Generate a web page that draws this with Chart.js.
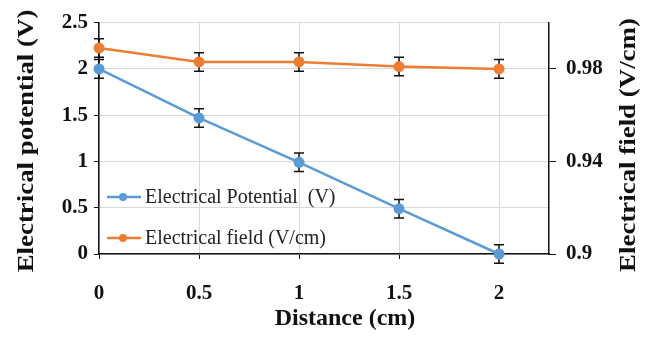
<!DOCTYPE html>
<html lang="en">
<head>
<meta charset="UTF-8">
<title>Electrical potential and field vs distance</title>
<script src="https://cdn.jsdelivr.net/npm/chart.js"></script>
<style>
  body { margin: 0; background: #fff; }
  canvas { display: block; }
</style>
</head>
<body>
<canvas id="chart" width="654" height="337"></canvas>
<script>
// values
var distance = [0, 0.5, 1, 1.5, 2];
var potential = [2.0, 1.47, 0.99, 0.49, 0.0];
var potentialErr = [0.1, 0.1, 0.1, 0.1, 0.1];
var field = [0.989, 0.983, 0.983, 0.981, 0.980];
var fieldErr = [0.004, 0.004, 0.004, 0.004, 0.004];
var xTicks = [0, 0.5, 1, 1.5, 2];
var leftTicks = [0, 0.5, 1, 1.5, 2, 2.5];
var rightTicks = [0.9, 0.94, 0.98];

var blue = '#5b9bd5';
var orange = '#ed7d31';
var serif = '"Liberation Serif", "Times New Roman", serif';

function pts(ys) {
    return distance.map(function (x, i) { return { x: x, y: ys[i] }; });
}

// plain number labels: 2 not 2.0, 0.9 not 0.90
function plain(v) {
    return String(Number(v.toFixed(2)));
}

// vertical error bars, drawn through the scales
var errorBars = {
    id: 'errorBars',
    beforeDatasetsDraw: function (chart) {
        var ctx = chart.ctx;
        var errs = [potentialErr, fieldErr];
        ctx.save();
        ctx.strokeStyle = '#111';
        ctx.lineWidth = 1.5;
        chart.data.datasets.forEach(function (ds, d) {
            var ys = chart.scales[ds.yAxisID];
            var xs = chart.scales.x;
            ds.data.forEach(function (p, i) {
                var x = xs.getPixelForValue(p.x);
                var top = ys.getPixelForValue(p.y + errs[d][i]);
                var bot = ys.getPixelForValue(p.y - errs[d][i]);
                ctx.beginPath();
                ctx.moveTo(x, top); ctx.lineTo(x, bot);
                ctx.moveTo(x - 5, top); ctx.lineTo(x + 5, top);
                ctx.moveTo(x - 5, bot); ctx.lineTo(x + 5, bot);
                ctx.stroke();
            });
        });
        ctx.restore();
    }
};

// axis titles and the legend inside the plot
var extras = {
    id: 'extras',
    afterDraw: function (chart) {
        var ctx = chart.ctx;
        var a = chart.chartArea;
        ctx.save();
        ctx.fillStyle = '#111';
        ctx.textAlign = 'center';
        ctx.textBaseline = 'middle';

        ctx.font = 'bold 24px ' + serif;
        ctx.fillText('Distance (cm)', 345, 319);

        ctx.save();
        ctx.translate(27, 141);
        ctx.rotate(-Math.PI / 2);
        ctx.scale(1.12, 1);
        ctx.fillText('Electrical potential (V)', 0, 0);
        ctx.restore();

        ctx.save();
        ctx.translate(629, 145);
        ctx.rotate(-Math.PI / 2);
        ctx.scale(1.12, 1);
        ctx.fillText('Electrical field (V/cm)', 0, 0);
        ctx.restore();

        // legend
        var rows = [197, 238];
        ctx.font = '20px ' + serif;
        ctx.textAlign = 'left';
        chart.data.datasets.forEach(function (ds, i) {
            var y = rows[i];
            ctx.strokeStyle = ds.borderColor;
            ctx.lineWidth = 2.5;
            ctx.beginPath();
            ctx.moveTo(a.left + 8, y); ctx.lineTo(a.left + 42, y);
            ctx.stroke();
            ctx.fillStyle = ds.borderColor;
            ctx.beginPath();
            ctx.arc(a.left + 24, y, 4, 0, Math.PI * 2);
            ctx.fill();
            ctx.fillStyle = '#222';
            ctx.fillText(ds.label, a.left + 46, y + 1);
        });
        ctx.restore();
    }
};

var tickFont = { family: serif, size: 21, weight: 'bold' };

new Chart(document.getElementById('chart'), {
    type: 'line',
    data: {
        datasets: [{
            label: 'Electrical Potential  (V)',
            data: pts(potential),
            yAxisID: 'y',
            borderColor: blue,
            backgroundColor: blue,
            borderWidth: 2.5,
            pointRadius: 5.5,
            pointBorderWidth: 0,
            clip: false
        }, {
            label: 'Electrical field (V/cm)',
            data: pts(field),
            yAxisID: 'y1',
            borderColor: orange,
            backgroundColor: orange,
            borderWidth: 2.5,
            pointRadius: 5.5,
            pointBorderWidth: 0,
            clip: false
        }]
    },
    options: {
        responsive: false,
        animation: false,
        layout: { padding: { top: 15 } },
        plugins: {
            legend: { display: false },
            tooltip: { enabled: false }
        },
        scales: {
            x: {
                type: 'linear',
                min: 0,
                max: 2.25,
                afterBuildTicks: function (s) { s.ticks = xTicks.map(function (v) { return { value: v }; }); },
                afterFit: function (s) { s.height = 83; },
                grid: { color: '#d9d9d9', tickColor: '#111', tickLength: 5 },
                border: { color: '#111', width: 1.5 },
                ticks: { font: tickFont, color: '#111', padding: 22, maxRotation: 0, callback: plain }
            },
            y: {
                position: 'left',
                min: 0,
                max: 2.5,
                afterBuildTicks: function (s) { s.ticks = leftTicks.map(function (v) { return { value: v }; }); },
                afterFit: function (s) { s.width = 99; },
                grid: { color: '#d9d9d9', tickColor: '#111', tickLength: 5 },
                border: { color: '#111', width: 1.5 },
                ticks: { font: tickFont, color: '#111', padding: 6, callback: plain }
            },
            y1: {
                position: 'right',
                min: 0.9,
                max: 1.0,
                afterBuildTicks: function (s) { s.ticks = rightTicks.map(function (v) { return { value: v }; }); },
                afterFit: function (s) { s.width = 105; },
                grid: { drawOnChartArea: false, tickColor: '#111', tickLength: 7 },
                border: { color: '#111', width: 1.5 },
                ticks: { font: tickFont, color: '#111', padding: 10, callback: plain }
            }
        }
    },
    plugins: [errorBars, extras]
});
</script>
</body>
</html>
